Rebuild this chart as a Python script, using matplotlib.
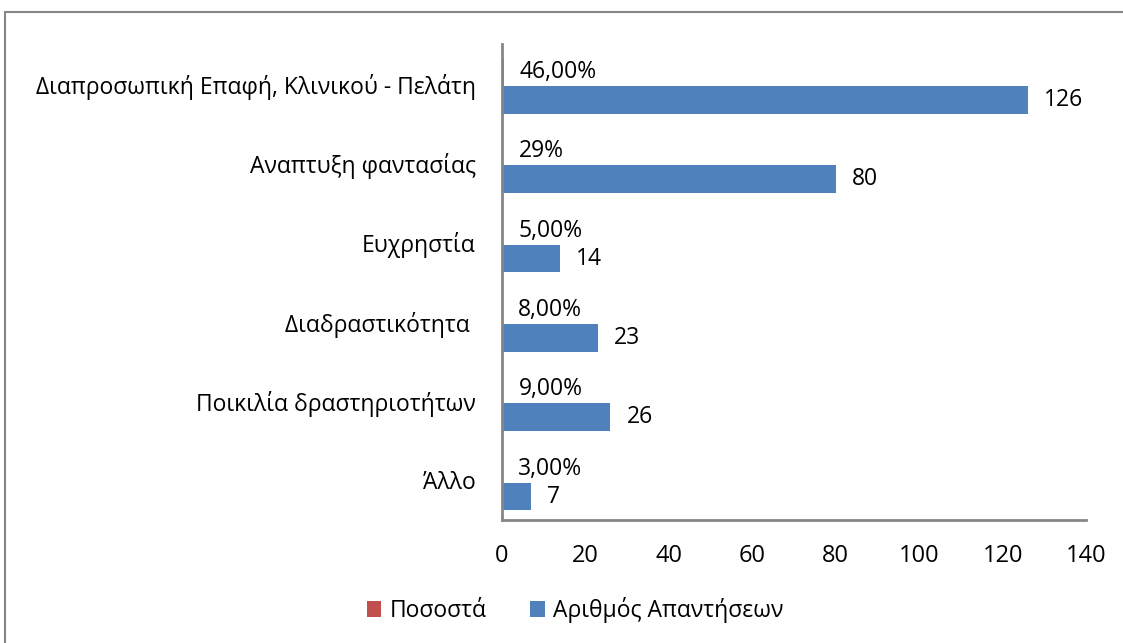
import numpy as np
import matplotlib.pyplot as plt
from matplotlib.patches import Rectangle

plt.rcParams['font.family'] = ['Open Sans', 'DejaVu Sans']

# data (top to bottom as in the chart)
categories = ['Διαπροσωπική Επαφή, Κλινικού - Πελάτη', 'Αναπτυξη φαντασίας',
              'Ευχρηστία', 'Διαδραστικότητα ', 'Ποικιλία δραστηριοτήτων', 'Άλλο']
pososta = [0.46, 0.29, 0.05, 0.08, 0.09, 0.03]
pososta_labels = ['46,00%', '29%', '5,00%', '8,00%', '9,00%', '3,00%']
apantiseis = [126, 80, 14, 23, 26, 7]

red = '#C0504D'
blue = '#4F81BD'
grey = '#868686'

fig = plt.figure(figsize=(11.23, 6.43), dpi=100)
ax = fig.add_axes([502/1123, 1-520/643, 584/1123, 476/643])

# outer chart border
fig.patches.append(Rectangle((5/1123, -0.05), 1.1, 1-12/643+0.05, transform=fig.transFigure,
                             fill=False, edgecolor=grey, linewidth=1.5))

y = np.arange(len(categories))
h = 0.35
b1 = ax.barh(y - h/2 + 0.03, pososta, height=h, color=red, label='Ποσοστά')
b2 = ax.barh(y + h/2 + 0.03, apantiseis, height=h, color=blue, label='Αριθμός Απαντήσεων')

for rect, lab in zip(b1, pososta_labels):
    ax.annotate(lab, (rect.get_width(), rect.get_y() + rect.get_height()/2),
                xytext=(16, 0), textcoords='offset pixels', ha='left', va='center', fontsize=16.5)
for rect, v in zip(b2, apantiseis):
    ax.annotate(str(v), (rect.get_width(), rect.get_y() + rect.get_height()/2),
                xytext=(16, 0), textcoords='offset pixels', ha='left', va='center', fontsize=16.5)

ax.set_xlim(0, 140)
ax.set_xticks(range(0, 141, 20))
ax.set_ylim(len(categories) - 0.5, -0.5)
ax.set_yticks(y)
ax.set_yticklabels(categories)
ax.tick_params(axis='y', length=0, pad=19, labelsize=16.5)
ax.tick_params(axis='x', length=0, pad=17, labelsize=17)

for s in ['top', 'right']:
    ax.spines[s].set_visible(False)
for s in ['left', 'bottom']:
    ax.spines[s].set_color(grey)
    ax.spines[s].set_linewidth(2)

fig.legend(handles=[b1, b2], loc='center', bbox_to_anchor=(0.512, 1-610/643), ncol=2,
           frameon=False, fontsize=16.5, handlelength=0.65, handleheight=0.65,
           columnspacing=1.9, handletextpad=0.35)

fig.savefig('out.png', dpi=100)
